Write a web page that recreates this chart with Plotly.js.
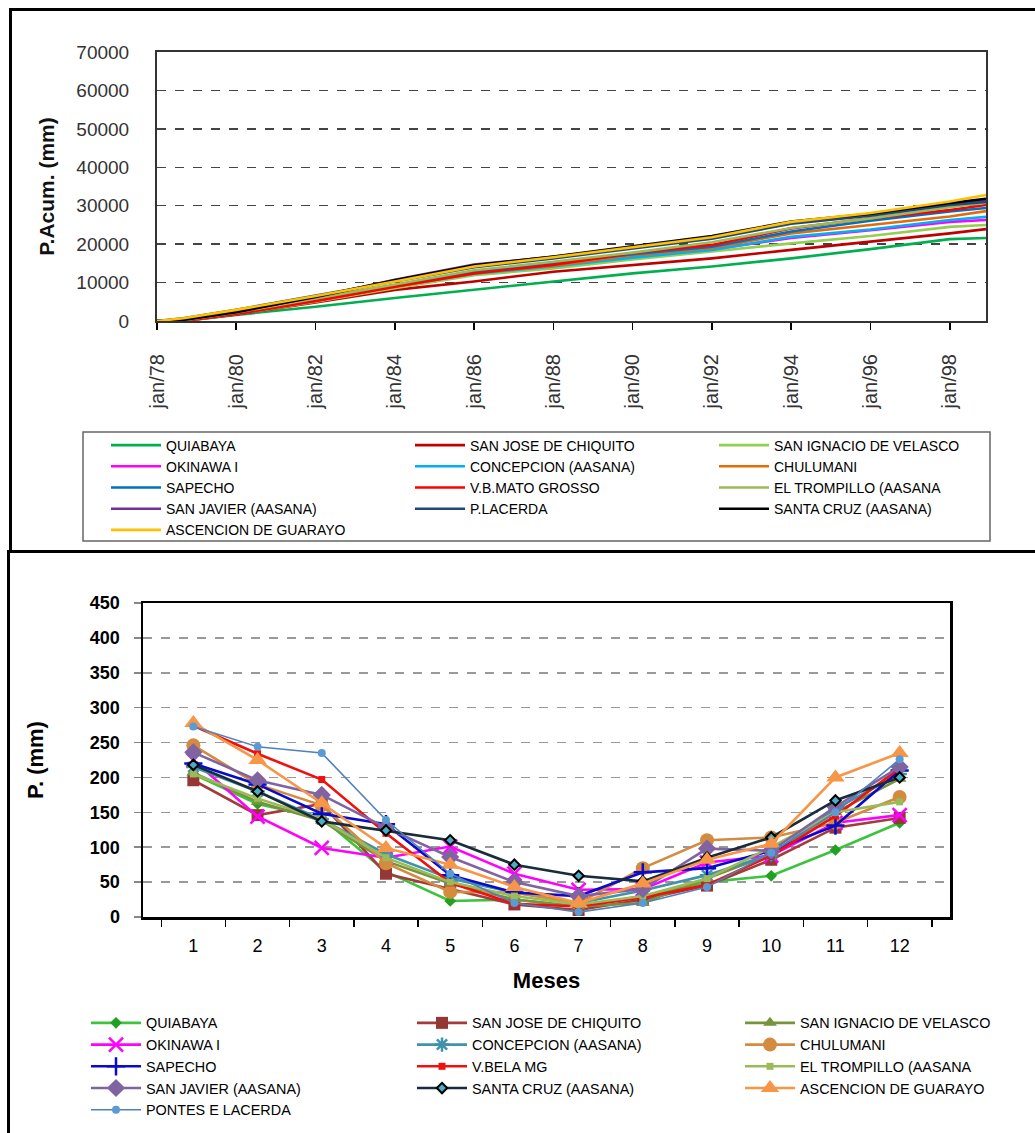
<!DOCTYPE html>
<html><head><meta charset="utf-8">
<script src="https://cdn.plot.ly/plotly-3.0.1.min.js"></script>
<style>
html,body{margin:0;padding:0;background:#fff;}
#wrap{position:relative;width:1035px;height:1133px;overflow:hidden;background:#fff;}
#top{position:absolute;left:0;top:0;width:1035px;height:553px;}
#bot{position:absolute;left:0;top:553px;width:1035px;height:580px;}
.frame{position:absolute;pointer-events:none;box-sizing:border-box;}
</style></head><body>
<div id="wrap">
<div id="top"></div><div id="bot"></div>
<div class="frame" style="left:9px;top:8px;width:1060px;height:545px;border:3px solid #000;"></div>
<div class="frame" style="left:7px;top:550px;width:1060px;height:620px;border:3px solid #000;"></div>
</div>
<script>
// ---------- Top chart: accumulated precipitation ----------
const topDates = ['1978-01-01','1978-09-01','1980-01-01','1982-01-01','1984-01-01','1986-01-01','1988-01-01','1990-01-01','1992-01-01','1994-01-01','1996-01-01','1998-01-01','1998-12-01'];
const topTickVals = ['1978-01-01','1980-01-01','1982-01-01','1984-01-01','1986-01-01','1988-01-01','1990-01-01','1992-01-01','1994-01-01','1996-01-01','1998-01-01'];
const topTickText = ['jan/78','jan/80','jan/82','jan/84','jan/86','jan/88','jan/90','jan/92','jan/94','jan/96','jan/98'];
const topNames = ['QUIABAYA','SAN JOSE DE CHIQUITO','SAN IGNACIO DE VELASCO','OKINAWA I','CONCEPCION (AASANA)','CHULUMANI','SAPECHO','V.B.MATO GROSSO','EL TROMPILLO (AASANA','SAN JAVIER (AASANA)','P.LACERDA','SANTA CRUZ (AASANA)','ASCENCION DE GUARAYO'];
const topColors = ['#00B050','#C00000','#92D050','#FF00FF','#00B0F0','#E36C09','#0070C0','#FF0000','#9BBB59','#7030A0','#1F497D','#000000','#FFC000'];
const accQuiabaya    = [0,0,1600,3700,6000,8100,10300,12400,14200,16300,18700,21300,21600];
const accSanJose     = [0,0,1700,4800,8100,10300,12800,14600,16300,18500,20600,22800,23900];
const accSanIgnacio  = [0,0,1800,5000,8500,11900,13700,16000,18100,20200,22100,24500,25000];
const accOkinawa     = [0,100,2000,5300,9000,12800,14800,16800,18600,21600,23600,25800,26300];
const accConcepcion  = [0,100,2000,5400,9000,12300,14200,16500,18500,21900,23800,26300,27100];
const accChulumani   = [0,100,1900,5200,8900,12600,14400,17100,19000,22800,25000,27200,28600];
const accSapecho     = [0,500,2700,6000,9300,12900,15000,17400,19300,23300,26100,28500,29400];
const accVBMato      = [0,0,1800,5200,8900,12400,14600,17700,19800,24100,26700,28900,30200];
const accTrompillo   = [0,200,2200,5800,9500,13200,15400,17800,20500,24200,26700,29600,30800];
const accSanJavier   = [0,300,2500,6200,10700,14700,16700,19100,21700,25500,27700,30400,31500];
const accPLacerda    = [0,700,2900,6600,10200,14000,16300,18900,21400,25300,27400,30200,31000];
const accSantaCruz   = [0,300,2300,6300,10600,14500,16800,19400,22100,25900,27900,30700,31800];
const accAscencion   = [0,700,2900,6500,10300,14200,16600,19200,21800,25800,28100,31100,32800];
const topSeries = [accQuiabaya,accSanJose,accSanIgnacio,accOkinawa,accConcepcion,accChulumani,accSapecho,accVBMato,accTrompillo,accSanJavier,accPLacerda,accSantaCruz,accAscencion];

// ---------- Bottom chart: monthly mean precipitation ----------
const months = ['1','2','3','4','5','6','7','8','9','10','11','12'];
const botNames = ['QUIABAYA','SAN JOSE DE CHIQUITO','SAN IGNACIO DE VELASCO','OKINAWA I','CONCEPCION (AASANA)','CHULUMANI','SAPECHO','V.BELA MG','EL TROMPILLO (AASANA','SAN JAVIER (AASANA)','SANTA CRUZ (AASANA)','ASCENCION DE GUARAYO','PONTES E LACERDA'];
const mQuiabaya   = [205,162,142,65,23,25,15,30,50,59,96,135];
const mSanJose    = [196,146,162,62,40,18,10,25,45,82,128,142];
const mSanIgnacio = [207,165,138,80,48,25,15,20,55,90,150,198];
const mOkinawa    = [225,144,99,85,101,62,39,40,78,88,135,146];
const mConcepcion = [215,180,140,90,55,35,20,38,60,90,155,205];
const mChulumani  = [246,190,160,77,36,35,20,70,110,114,135,172];
const mSapecho    = [220,190,148,133,60,35,30,64,70,95,131,210];
const mVBela      = [274,234,197,120,49,19,15,28,46,88,145,213];
const mTrompillo  = [205,170,140,85,50,30,18,30,55,100,150,165];
const mSanJavier  = [236,196,175,128,86,50,30,40,98,95,158,215];
const mSantaCruz  = [218,180,137,124,110,75,59,51,85,114,167,200];
const mAscencion  = [278,225,163,99,75,43,20,48,82,105,200,235];
const mPontes     = [273,244,235,139,62,20,7,20,43,92,150,226];
const botSeries = [mQuiabaya,mSanJose,mSanIgnacio,mOkinawa,mConcepcion,mChulumani,mSapecho,mVBela,mTrompillo,mSanJavier,mSantaCruz,mAscencion,mPontes];
const botLineColors = ['#3CC43C','#A33B3B','#77933C','#FF00FF','#3F93AB','#D38B3F','#0A0ACC','#F01010','#9BBB59','#8064A2','#1A2B3A','#F79646','#4F81BD'];
const botMarkerColors = ['#22A022','#953735','#77933C','#FF00FF','#3F93AB','#D38B3F','#0A0ACC','#F01010','#9BBB59','#8064A2','#4BACC6','#F79646','#5B9BD5'];
const botSymbols = ['diamond','square','triangle-up','x-thin-open','asterisk-open','circle','cross-thin-open','square','square','diamond','diamond','triangle-up','circle'];
const botSizes = [9,12,12,14,12,14,13,7,7,14,8,16,8];

const fontMain = 'Liberation Sans, Arial, sans-serif';
const cols = ['legend','legend2','legend3'];

// ---- top traces
const topTraces = topSeries.map((ys,i)=>({
  type:'scatter', mode:'lines', x: topDates, y: ys, name: topNames[i],
  line:{color: topColors[i], width:2.6},
  legend: cols[i%3], hoverinfo:'skip'
}));
function legTop(px){
  return {x:(px-157)/829, y:(321-429.5)/269, xanchor:'left', yanchor:'top', orientation:'v',
    font:{family:fontMain, size:14, color:'#000'}, itemwidth:50, bgcolor:'rgba(0,0,0,0)', borderwidth:0};
}
const layoutTop = {
  width:1035, height:553,
  margin:{l:157, r:49, t:52, b:232, autoexpand:false},
  paper_bgcolor:'#fff', plot_bgcolor:'#fff', showlegend:true,
  xaxis:{type:'date', range:['1978-01-01','1998-12-01'], tickvals:topTickVals, ticktext:topTickText,
    tickangle:-90, ticks:'outside', ticklen:7, tickwidth:1.5, tickcolor:'#000',
    showline:true, linecolor:'#333', linewidth:2, mirror:true, showgrid:false, zeroline:false,
    tickfont:{family:fontMain, size:20, color:'#333'}, ticklabelstandoff:16},
  yaxis:{range:[0,70000], dtick:10000, tick0:0, tickformat:'d', showgrid:true, gridcolor:'#444', griddash:'dash', gridwidth:1.5,
    showline:true, linecolor:'#333', linewidth:2, mirror:true, zeroline:false, ticks:'',
    tickfont:{family:fontMain, size:19, color:'#333'}, ticklabelstandoff:22,
    title:{text:'<b>P.Acum. (mm)</b>', font:{family:fontMain, size:21, color:'#111'}, standoff:16}},
  legend:legTop(106), legend2:legTop(410), legend3:legTop(714),
  shapes:[{type:'rect', xref:'paper', yref:'paper', x0:(83-157)/829, x1:(990-157)/829, y0:(321-432)/269, y1:(321-541)/269,
    line:{color:'#666', width:1.5}, fillcolor:'rgba(0,0,0,0)', layer:'below'}]
};
Plotly.newPlot('top', topTraces, layoutTop, {displayModeBar:false, staticPlot:true});

// ---- bottom traces
const botTraces = botSeries.map((ys,i)=>{
  const open = botSymbols[i].indexOf('open')>=0;
  const m = {symbol:botSymbols[i], size:botSizes[i], color:botMarkerColors[i]};
  if(open){ m.line = {color:botMarkerColors[i], width:2.5}; }
  else if(i===10){ m.line = {color:'#000', width:2}; }
  else { m.line = {width:0}; }
  return {type:'scatter', mode:'lines+markers', x: months, y: ys, name: botNames[i],
    line:{color: botLineColors[i], width: (i===12?1.6:2.6)}, marker:m,
    legend: cols[i%3], hoverinfo:'skip'};
});
function legBot(px){
  return {x:(px-143)/807, y:(364-454)/314, xanchor:'left', yanchor:'top', orientation:'v',
    font:{family:fontMain, size:14.4, color:'#000'}, itemwidth:50, bgcolor:'rgba(0,0,0,0)', borderwidth:0};
}
const layoutBot = {
  width:1035, height:580,
  margin:{l:143, r:85, t:50, b:216, autoexpand:false},
  paper_bgcolor:'#fff', plot_bgcolor:'#fff', showlegend:true,
  xaxis:{type:'category', tickson:'boundaries', ticks:'outside', ticklen:7, tickwidth:1.5, tickcolor:'#000',
    showline:true, linecolor:'#000', linewidth:2.5, mirror:true, showgrid:false, zeroline:false,
    tickfont:{family:fontMain, size:18, color:'#000'}, ticklabelstandoff:11,
    title:{text:'<b>Meses</b>', font:{family:fontMain, size:22, color:'#000'}, standoff:18}},
  yaxis:{range:[0,450], dtick:50, tick0:0, showgrid:true, gridcolor:'#999', griddash:'dash', gridwidth:1.5,
    showline:true, linecolor:'#000', linewidth:2.5, mirror:true, zeroline:false,
    ticks:'outside', ticklen:7, tickwidth:1.5, tickcolor:'#888',
    tickfont:{family:fontMain, size:18, color:'#000', weight:'bold'}, ticklabelstandoff:10,
    title:{text:'<b>P. (mm)</b>', font:{family:fontMain, size:22, color:'#000'}, standoff:40}},
  legend:legBot(86), legend2:legBot(412), legend3:legBot(740)
};
Plotly.newPlot('bot', botTraces, layoutBot, {displayModeBar:false, staticPlot:true});
</script>
</body></html>
